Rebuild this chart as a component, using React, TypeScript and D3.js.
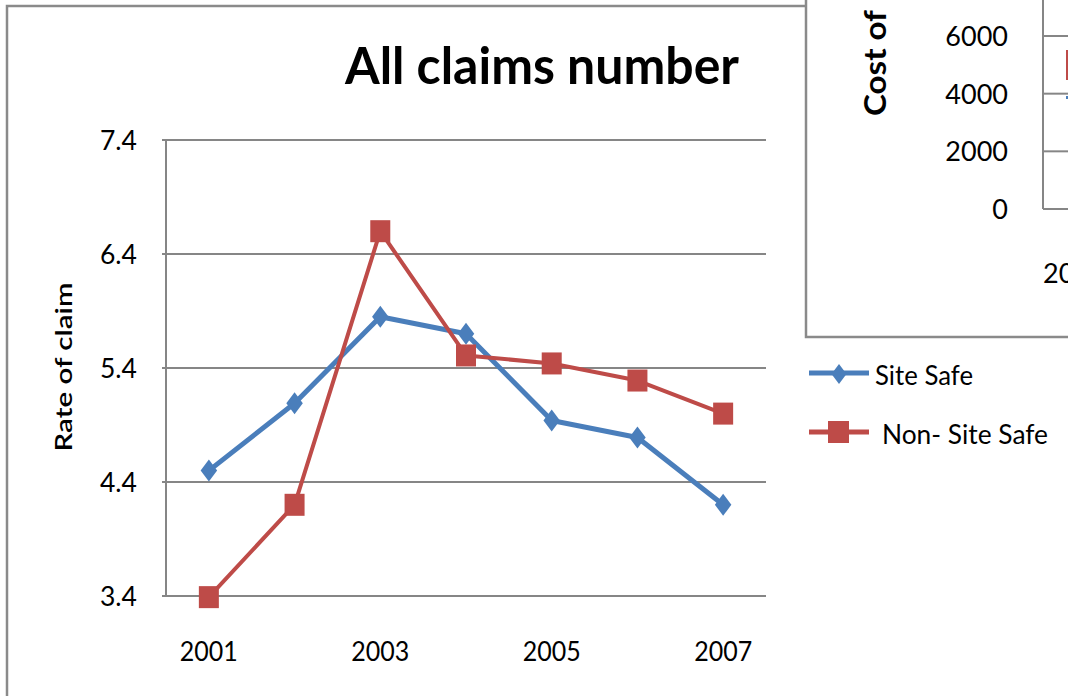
import React from "react";
import * as d3 from "d3";

const years = ["2001", "2002", "2003", "2004", "2005", "2006", "2007"];
const labelYears = ["2001", "2003", "2005", "2007"];
const siteSafe = [4.5, 5.09, 5.85, 5.7, 4.94, 4.79, 4.2];
const nonSiteSafe = [3.39, 4.2, 6.6, 5.51, 5.44, 5.29, 5.0];
const yTicks = [3.4, 4.4, 5.4, 6.4, 7.4];
const costTicks = [0, 2000, 4000, 6000];
const seriesNames = ["Site Safe", "Non- Site Safe"];

const BLUE = "#4A7EBB";
const RED = "#BE4B48";
const GRID = "#868686";
const FONT = "Lato, 'Open Sans', sans-serif";

export default function App() {
  const W = 1068, H = 696;
  const x = d3.scaleBand<string>().domain(years).range([166, 766]);
  const y = d3.scaleLinear().domain([3.4, 7.4]).range([596, 140]);
  const cx = (d: string) => (x(d) as number) + x.bandwidth() / 2;
  const line = d3.line<number>().x((_, i) => cx(years[i])).y((v) => y(v));
  const yc = d3.scaleLinear().domain([0, 6000]).range([209, 36]);

  const diamond = (px: number, py: number, r: number) =>
    `M${px},${py - r}L${px + r * 0.75},${py}L${px},${py + r}L${px - r * 0.75},${py}Z`;

  return (
    <svg width={W} height={H} style={{ position: "absolute", left: 0, top: 0, background: "#fff" }} fontFamily={FONT}>
      <rect x={0} y={0} width={W} height={H} fill="#fff" />
      {/* main chart frame */}
      <rect x={7} y={6} width={1200} height={800} fill="#fff" stroke="#8a8a8a" strokeWidth={2.5} />
      {/* title */}
      <text x={345} y={84} fontSize={52} fontWeight={700} textLength={394} lengthAdjust="spacingAndGlyphs" fill="#000">
        All claims number
      </text>
      {/* gridlines */}
      {yTicks.map((t) => (
        <g key={t}>
          <line x1={162} x2={766} y1={y(t)} y2={y(t)} stroke={GRID} strokeWidth={2} />
          <text x={137} y={y(t) + 10} fontSize={27} textAnchor="end" textLength={37} lengthAdjust="spacingAndGlyphs" fill="#000">{t.toFixed(1)}</text>
        </g>
      ))}
      <line x1={166} x2={166} y1={140} y2={597} stroke={GRID} strokeWidth={2} />
      {labelYears.map((yr) => (
        <text key={yr} x={cx(yr) - 29} y={661} fontSize={27} textLength={58} lengthAdjust="spacingAndGlyphs" fill="#000">{yr}</text>
      ))}
      <text transform="translate(72,367) rotate(-90)" fontSize={23} fontWeight={600} textAnchor="middle" textLength={169} lengthAdjust="spacingAndGlyphs" fill="#000">
        Rate of claim
      </text>
      {/* series */}
      <path d={line(siteSafe) || ""} fill="none" stroke={BLUE} strokeWidth={5} strokeLinejoin="round" />
      {siteSafe.map((v, i) => (
        <path key={i} d={diamond(cx(years[i]), y(v), 11)} fill={BLUE} />
      ))}
      <path d={line(nonSiteSafe) || ""} fill="none" stroke={RED} strokeWidth={4} strokeLinejoin="round" />
      {nonSiteSafe.map((v, i) => (
        <rect key={i} x={cx(years[i]) - 10} y={y(v) - 11} width={20} height={22} fill={RED} />
      ))}
      {/* legend */}
      <line x1={809} x2={869} y1={373} y2={373} stroke={BLUE} strokeWidth={5} />
      <path d={diamond(839, 374, 10)} fill={BLUE} />
      <text x={875} y={385} fontSize={26} textLength={98} lengthAdjust="spacingAndGlyphs" fill="#000">{seriesNames[0]}</text>
      <line x1={809} x2={869} y1={432} y2={432} stroke={RED} strokeWidth={5} />
      <rect x={828} y={421} width={21} height={22} fill={RED} />
      <text x={882} y={444} fontSize={26} fill="#000" textLength={166} lengthAdjust="spacingAndGlyphs">{seriesNames[1]}</text>
      {/* overlapping second chart */}
      <rect x={806} y={-20} width={300} height={357} fill="#fff" stroke="#8a8a8a" strokeWidth={2.5} />
      <text transform="translate(886,63) rotate(-90)" fontSize={31} fontWeight={700} textAnchor="middle" textLength={106} lengthAdjust="spacingAndGlyphs" fill="#000">Cost of</text>
      {costTicks.map((t) => (
        <g key={t}>
          {t > 0 && <line x1={1043} x2={1068} y1={yc(t)} y2={yc(t)} stroke={GRID} strokeWidth={2} />}
          <text x={1008} y={yc(t) + 10} fontSize={27} textAnchor="end" fill="#000">{t}</text>
        </g>
      ))}
      <line x1={1043} x2={1043} y1={0} y2={209} stroke={GRID} strokeWidth={2} />
      <line x1={1043} x2={1068} y1={209} y2={209} stroke={GRID} strokeWidth={2} />
      <rect x={1066} y={50} width={2} height={30} fill={RED} />
      <rect x={1066} y={96} width={2} height={3} fill={BLUE} />
      <text x={1043} y={283} fontSize={27} fill="#000">2001</text>
    </svg>
  );
}
